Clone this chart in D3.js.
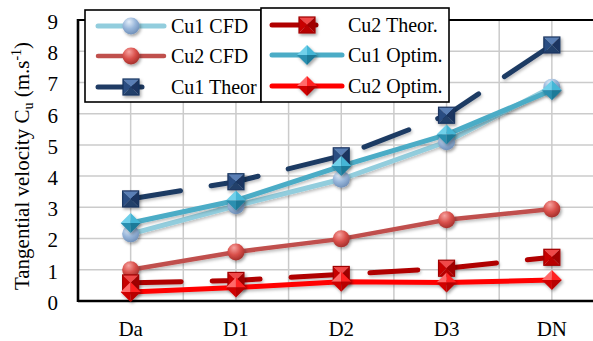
<!DOCTYPE html>
<html>
<head>
<meta charset="utf-8">
<script src="https://cdn.jsdelivr.net/npm/d3@7"></script>
<style>
  html, body { margin: 0; padding: 0; background: #fff; }
  svg { display: block; }
  text { font-family: "Liberation Serif", "Times New Roman", "DejaVu Serif", serif; fill: #000; }
</style>
</head>
<body>
<svg id="chart" width="593" height="341"></svg>
<script>
// Tangential velocity per station
const categories = ["Da", "D1", "D2", "D3", "DN"];
const cu1CFD   = [2.15, 3.05, 3.9, 5.1, 6.85];
const cu2CFD   = [1.0, 1.57, 1.99, 2.6, 2.95];
const cu1Theor = [3.27, 3.82, 4.65, 5.95, 8.2];
const cu2Theor = [0.58, 0.66, 0.85, 1.05, 1.4];
const cu1Optim = [2.5, 3.22, 4.32, 5.33, 6.75];
const cu2Optim = [0.29, 0.43, 0.62, 0.59, 0.67];
const yTicks   = [0, 1, 2, 3, 4, 5, 6, 7, 8, 9];

const serifFont = "'Liberation Serif', 'Times New Roman', 'DejaVu Serif', serif";

const series = [
  { name: "Cu1 CFD",    values: cu1CFD,   line: "#92CDDD", width: 5,   dash: null, marker: "circle",  fill: "gBlueSphere" },
  { name: "Cu2 CFD",    values: cu2CFD,   line: "#C0504D", width: 4.5, dash: null, marker: "circle",  fill: "gRedSphere" },
  { name: "Cu1 Theor.", values: cu1Theor, line: "#1F3B64", width: 5,   dash: true, marker: "square",  colors: ["#5A7FB5", "#2A4E82", "#1A3560", "#233F6A"] },
  { name: "Cu2 Theor.", values: cu2Theor, line: "#B00000", width: 5,   dash: true, marker: "square",  colors: ["#F04848", "#C80000", "#A00000", "#B80000"] },
  { name: "Cu1 Optim.", values: cu1Optim, line: "#4BACC6", width: 5,   dash: null, marker: "diamond", colors: ["#6FD0EA", "#45B6D6", "#2A8FB0", "#1F7A98"] },
  { name: "Cu2 Optim.", values: cu2Optim, line: "#FF0000", width: 5,   dash: null, marker: "diamond", colors: ["#FF6A6A", "#FF2020", "#D00000", "#B80000"] }
];

const svg = d3.select("#chart").attr("font-family", serifFont);
const defs = svg.append("defs");

// shading for the spheres
function sphere(id, hi, base, edge) {
  const g = defs.append("radialGradient").attr("id", id)
    .attr("cx", "40%").attr("cy", "32%").attr("r", "70%").attr("fx", "38%").attr("fy", "25%");
  g.append("stop").attr("offset", "0%").attr("stop-color", hi);
  g.append("stop").attr("offset", "55%").attr("stop-color", base);
  g.append("stop").attr("offset", "100%").attr("stop-color", edge);
}
sphere("gBlueSphere", "#E4EEF9", "#98B6DA", "#6F8FB8");
sphere("gRedSphere", "#F6A3A0", "#D9504B", "#A32E2A");

const shadow = defs.append("filter").attr("id", "shadow")
  .attr("x", "-50%").attr("y", "-50%").attr("width", "200%").attr("height", "200%");
shadow.append("feDropShadow").attr("dx", 1.5).attr("dy", 2).attr("stdDeviation", 1.4)
  .attr("flood-color", "#000").attr("flood-opacity", 0.35);
const lineShadow = defs.append("filter").attr("id", "lineShadow")
  .attr("x", "-10%").attr("y", "-50%").attr("width", "120%").attr("height", "200%");
lineShadow.append("feDropShadow").attr("dx", 1).attr("dy", 2).attr("stdDeviation", 1.5)
  .attr("flood-color", "#000").attr("flood-opacity", 0.25);

const plotLeft = 78, plotTop = 20, plotBottom = 301, band = 105.3;
const x = d3.scaleBand().domain(categories).range([plotLeft, plotLeft + band * categories.length]).padding(0);
const y = d3.scaleLinear().domain([0, 9]).range([plotBottom, plotTop]);
const cx = c => x(c) + x.bandwidth() / 2;

// grid
const grid = svg.append("g").attr("stroke", "#CBCBCB").attr("stroke-width", 1.5);
grid.selectAll("line.h").data(yTicks.filter(t => t > 0 && t < 9)).join("line")
  .attr("x1", plotLeft).attr("x2", 593).attr("y1", d => y(d)).attr("y2", d => y(d));
const vlines = [];
categories.forEach((c, i) => { vlines.push(cx(c)); if (i > 0) vlines.push(x(c)); });
grid.selectAll("line.v").data(vlines).join("line")
  .attr("x1", d => d).attr("x2", d => d).attr("y1", plotTop).attr("y2", plotBottom);

// plot frame
svg.append("rect").attr("x", plotLeft).attr("y", plotTop)
  .attr("width", band * categories.length).attr("height", plotBottom - plotTop)
  .attr("fill", "none").attr("stroke", "#000").attr("stroke-width", 2);
svg.append("line").attr("x1", plotLeft).attr("x2", 593).attr("y1", plotBottom).attr("y2", plotBottom)
  .attr("stroke", "#000").attr("stroke-width", 2.6);
svg.append("line").attr("x1", plotLeft).attr("x2", plotLeft).attr("y1", plotTop - 1).attr("y2", plotBottom + 1)
  .attr("stroke", "#000").attr("stroke-width", 2.6);

// axes
const yAxis = svg.append("g").attr("transform", `translate(${plotLeft},0)`)
  .call(d3.axisLeft(y).tickValues(yTicks).tickSize(0).tickPadding(20).tickFormat(d3.format("d")));
yAxis.attr("font-family", serifFont);
yAxis.select(".domain").remove();
yAxis.selectAll("text").attr("font-size", 21).attr("dy", "0.4em");

const xAxis = svg.append("g").attr("transform", `translate(0,${plotBottom})`)
  .call(d3.axisBottom(x).tickSize(0));
xAxis.attr("font-family", serifFont);
xAxis.select(".domain").remove();
xAxis.selectAll("text").attr("font-size", 21).attr("dy", null).attr("y", 35);

// axis title
const title = svg.append("text").attr("transform", "translate(29,166) rotate(-90)")
  .attr("text-anchor", "middle").attr("font-size", 21);
title.append("tspan").text("Tangential velocity C");
title.append("tspan").attr("font-size", 14).attr("dy", 4).text("u");
title.append("tspan").attr("dy", -4).text(" (m.s");
title.append("tspan").attr("font-size", 14).attr("dy", -8).text("-1");
title.append("tspan").attr("dy", 8).text(")");

// marker drawing
function drawMarker(g, s, px, py) {
  const m = g.append("g").attr("transform", `translate(${px},${py})`).attr("filter", "url(#shadow)");
  if (s.marker === "circle") {
    m.append("circle").attr("r", 8.5).attr("fill", `url(#${s.fill})`);
  } else if (s.marker === "square") {
    const h = 8;
    // bevelled square drawn as four pyramid faces
    const faces = [
      [[-h, -h], [h, -h], [0, 0]],
      [[-h, -h], [-h, h], [0, 0]],
      [[h, -h], [h, h], [0, 0]],
      [[-h, h], [h, h], [0, 0]]
    ];
    faces.forEach((f, i) => m.append("path").attr("d", "M" + f.join("L") + "Z").attr("fill", s.colors[i]));
    m.append("rect").attr("x", -h).attr("y", -h).attr("width", 2 * h).attr("height", 2 * h)
      .attr("fill", "none").attr("stroke", s.colors[2]).attr("stroke-width", 1.2);
  } else {
    const r = 10;
    const faces = [
      [[0, -r], [-r, 0], [0, 0]],
      [[0, -r], [r, 0], [0, 0]],
      [[-r, 0], [0, r], [0, 0]],
      [[r, 0], [0, r], [0, 0]]
    ];
    faces.forEach((f, i) => m.append("path").attr("d", "M" + f.join("L") + "Z").attr("fill", s.colors[i]));
  }
}

const line = d3.line().x((d, i) => cx(categories[i])).y(d => y(d));
const plot = svg.append("g");
series.forEach(s => {
  const p = plot.append("path").datum(s.values).attr("d", line)
    .attr("fill", "none").attr("stroke", s.line).attr("stroke-width", s.width)
    .attr("stroke-linecap", "round").attr("stroke-linejoin", "round")
    .attr("filter", "url(#lineShadow)");
  if (s.dash) p.attr("stroke-dasharray", "48 31").attr("stroke-dashoffset", -2.5);
});
series.forEach(s => {
  s.values.forEach((v, i) => drawMarker(plot, s, cx(categories[i]), y(v)));
});

// legends: two framed boxes of three entries each
function legendBox(bx, by, bw, bh, items, lx0, lx1, tx, rows) {
  const g = svg.append("g");
  g.append("rect").attr("x", bx).attr("y", by).attr("width", bw).attr("height", bh)
    .attr("fill", "#fff").attr("stroke", "#000").attr("stroke-width", 1.6);
  items.forEach((s, i) => {
    const ly = rows[i];
    const p = g.append("line").attr("x1", lx0).attr("x2", lx1).attr("y1", ly).attr("y2", ly)
      .attr("stroke", s.line).attr("stroke-width", s.width).attr("stroke-linecap", "round");
    if (s.dash) p.attr("stroke-dasharray", "44 31");
    drawMarker(g, s, (lx0 + lx1) / 2, ly);
    g.append("text").attr("x", tx).attr("y", ly + 7).attr("font-size", 20).text(s.name);
  });
  return g;
}
const box1 = legendBox(85, 10, 176, 92, series.slice(0, 3), 98, 164, 171, [26, 56, 87]);
box1.selectAll("text").filter((d, i) => i === 2).text("Cu1 Theor");
legendBox(261, 8, 188, 94, [series[3], series[4], series[5]], 272, 342, 348, [25, 55, 86]);
</script>
</body>
</html>
